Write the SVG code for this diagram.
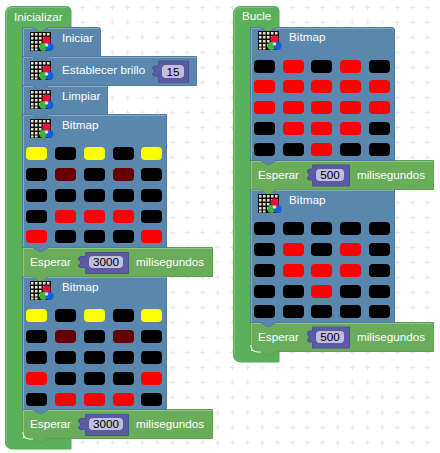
<svg xmlns="http://www.w3.org/2000/svg" width="440" height="453" viewBox="0 0 440 453">
<style>
text{font-family:"Liberation Sans",Arial,sans-serif;font-size:11.7px;fill:#fff}
.num{fill:#000;text-anchor:middle}
.hat{fill:#5bb05b;stroke:#58a858;stroke-width:1}
.blue{fill:#5a87ad;stroke:#4f7b9f;stroke-width:1}
.green{fill:#69ad5b;stroke:#5f9f52;stroke-width:1}
.hlb{fill:none;stroke:#84a8c6;stroke-width:1}
.hlg{fill:none;stroke:#8fc684;stroke-width:1}
.hlh{fill:none;stroke:#7cc47c;stroke-width:1}
.in{fill:none;stroke:#f4f8f2;stroke-width:1.2}
.val{fill:#5b5ba5;stroke:#50508f;stroke-width:1}
.fld{fill:#bfbfe0}
.k{fill:#000}.r{fill:#f00}.y{fill:#ff0}.d{fill:#600}
</style>
<defs>
<pattern id="dots" width="15" height="15" patternUnits="userSpaceOnUse">
<path d="M5,7.500H10M7.500,5V10" stroke="#e8e8e8" stroke-width="1" fill="none"/>
</pattern>
<rect id="c" width="21" height="13" rx="4"/>
<g id="icon">
<rect width="21" height="19" fill="#111"/>
<g fill="#e8e2c8"><rect x="1" y="1" width="2.500" height="2.500"/><rect x="5" y="1" width="2.500" height="2.500"/><rect x="9" y="1" width="2.500" height="2.500"/><rect x="13" y="1" width="2.500" height="2.500"/><rect x="17" y="1" width="2.500" height="2.500"/><rect x="1" y="5" width="2.500" height="2.500"/><rect x="5" y="5" width="2.500" height="2.500"/><rect x="9" y="5" width="2.500" height="2.500"/><rect x="13" y="5" width="2.500" height="2.500"/><rect x="17" y="5" width="2.500" height="2.500"/><rect x="1" y="9" width="2.500" height="2.500"/><rect x="5" y="9" width="2.500" height="2.500"/><rect x="9" y="9" width="2.500" height="2.500"/><rect x="1" y="13" width="2.500" height="2.500"/><rect x="5" y="13" width="2.500" height="2.500"/><rect x="9" y="13" width="2.500" height="2.500"/><rect x="1" y="16.500" width="2.500" height="2"/><rect x="5" y="16.500" width="2.500" height="2"/></g>
<circle cx="16.500" cy="8.500" r="4" fill="#e8103c"/>
<circle cx="13.500" cy="15" r="4" fill="#3cb43c"/>
<circle cx="19.500" cy="15" r="4" fill="#1060e0"/>
<circle cx="16.500" cy="13" r="1.800" fill="#e0e0c0"/>
</g>
<path id="v3000" class="val" d="M7.500,0.500H50.500V21.500H7.500V15.500H3Q0.500,15.500 0.500,13.500V13L2.500,11.500V9.500L0.500,8V7Q0.500,4.500 3,4.500H7.500Z"/>
<path id="v500" class="val" d="M5.500,0.500H42.500V21.500H5.500V15.500H2.500Q0.500,15.500 0.500,13.500V13L2,11.500V9.500L0.500,8V7Q0.500,4.500 2.500,4.500H5.500Z"/>
</defs>
<rect width="440" height="453" fill="#fff"/>
<rect width="440" height="453" fill="url(#dots)"/>

<g id="inicializar">
<path class="hat" d="M5.500,14Q5.500,6.500 13,6.500H66Q71,6.500 71,11.500V27.500H48L42,31.500H39L33,27.500H22.500V438.500H71V449H13Q5.500,449 5.500,441.500Z"/>
<path class="hlh" d="M6.500,441V14Q6.500,7.500 13,7.500H66"/>
<text x="14" y="21">Inicializar</text>
</g>
<g id="esperar-2">
<path class="green" d="M22.500,409.500H33L39,413.500H42L48,409.500H212.500V438.500H48L42,442.500H39L33,438.500H29Q22.500,438.500 22.500,432Z"/>
<path class="hlg" d="M23.500,432V410.500H33M48,410.500H212"/>
<path class="in" d="M22.800,432Q23,439 30,439H33"/>
<text x="30" y="428">Esperar</text>
<use href="#v3000" x="78" y="414"/>
<rect class="fld" x="89" y="418" width="34" height="12" rx="4"/>
<text class="num" x="106" y="428">3000</text>
<text x="136" y="428">milisegundos</text>
</g>
<g id="bitmap-2">
<path class="blue" d="M22.500,276.500H33L39,280.500H42L48,276.500H166.500V409.500H48L42,413.500H39L33,409.500H22.500Z"/>
<path class="hlb" d="M23.500,409V277.500H33M48,277.500H166"/>
<use href="#icon" x="30" y="281"/>
<text x="62" y="291">Bitmap</text>
<use href="#c" class="y" x="26" y="309"/><use href="#c" class="k" x="55" y="309"/><use href="#c" class="y" x="84" y="309"/><use href="#c" class="k" x="113" y="309"/><use href="#c" class="y" x="141" y="309"/>
<use href="#c" class="k" x="26" y="330"/><use href="#c" class="d" x="55" y="330"/><use href="#c" class="k" x="84" y="330"/><use href="#c" class="d" x="113" y="330"/><use href="#c" class="k" x="141" y="330"/>
<use href="#c" class="k" x="26" y="351"/><use href="#c" class="k" x="55" y="351"/><use href="#c" class="k" x="84" y="351"/><use href="#c" class="k" x="113" y="351"/><use href="#c" class="k" x="141" y="351"/>
<use href="#c" class="r" x="26" y="372"/><use href="#c" class="k" x="55" y="372"/><use href="#c" class="k" x="84" y="372"/><use href="#c" class="k" x="113" y="372"/><use href="#c" class="r" x="141" y="372"/>
<use href="#c" class="k" x="26" y="393"/><use href="#c" class="r" x="55" y="393"/><use href="#c" class="r" x="84" y="393"/><use href="#c" class="r" x="113" y="393"/><use href="#c" class="k" x="141" y="393"/>
</g>
<g id="esperar-1">
<path class="green" d="M22.500,247.500H33L39,251.500H42L48,247.500H212.500V276.500H48L42,280.500H39L33,276.500H22.500Z"/>
<path class="hlg" d="M23.500,276V248.500H33M48,248.500H212"/>
<text x="30" y="266">Esperar</text>
<use href="#v3000" x="78" y="252"/>
<rect class="fld" x="89" y="256" width="34" height="12" rx="4"/>
<text class="num" x="106" y="266">3000</text>
<text x="136" y="266">milisegundos</text>
</g>
<g id="bitmap-1">
<path class="blue" d="M22.500,114.500H33L39,118.500H42L48,114.500H166.500V247.500H48L42,251.500H39L33,247.500H22.500Z"/>
<path class="hlb" d="M23.500,247V115.500H33M48,115.500H166"/>
<use href="#icon" x="30" y="119"/>
<text x="62" y="129">Bitmap</text>
<use href="#c" class="y" x="26" y="147"/><use href="#c" class="k" x="55" y="147"/><use href="#c" class="y" x="84" y="147"/><use href="#c" class="k" x="113" y="147"/><use href="#c" class="y" x="141" y="147"/>
<use href="#c" class="k" x="26" y="168"/><use href="#c" class="d" x="55" y="168"/><use href="#c" class="k" x="84" y="168"/><use href="#c" class="d" x="113" y="168"/><use href="#c" class="k" x="141" y="168"/>
<use href="#c" class="k" x="26" y="189"/><use href="#c" class="k" x="55" y="189"/><use href="#c" class="k" x="84" y="189"/><use href="#c" class="k" x="113" y="189"/><use href="#c" class="k" x="141" y="189"/>
<use href="#c" class="k" x="26" y="210"/><use href="#c" class="r" x="55" y="210"/><use href="#c" class="r" x="84" y="210"/><use href="#c" class="r" x="113" y="210"/><use href="#c" class="k" x="141" y="210"/>
<use href="#c" class="r" x="26" y="230"/><use href="#c" class="k" x="55" y="230"/><use href="#c" class="k" x="84" y="230"/><use href="#c" class="k" x="113" y="230"/><use href="#c" class="r" x="141" y="230"/>
</g>
<g id="limpiar">
<path class="blue" d="M22.500,85.500H33L39,89.500H42L48,85.500H107.500V114.500H48L42,118.500H39L33,114.500H22.500Z"/>
<path class="hlb" d="M23.500,114V86.500H33M48,86.500H107"/>
<use href="#icon" x="30" y="90"/>
<text x="62" y="100">Limpiar</text>
</g>
<g id="brillo">
<path class="blue" d="M22.500,56.500H33L39,60.500H42L48,56.500H196.500V85.500H48L42,89.500H39L33,85.500H22.500Z"/>
<path class="hlb" d="M23.500,85V57.500H33M48,57.500H196"/>
<use href="#icon" x="30" y="61"/>
<text x="62" y="74">Establecer brillo</text>
<path class="val" d="M158.500,61H188.500V82.500H158.500V76H155Q152.500,76 152.500,74V73.500L154.500,72V70L152.500,68.500V68Q152.500,66 155,66H158.500Z"/>
<rect class="fld" x="162" y="65" width="22" height="13" rx="4"/>
<text class="num" x="173" y="75.500">15</text>
</g>
<g id="iniciar">
<path class="blue" d="M22.500,27.500H33L39,31.500H42L48,27.500H98.500Q100.500,27.500 100.500,30V56.500H48L42,60.500H39L33,56.500H22.500Z"/>
<path class="hlb" d="M23.500,56V28.500H33M48,28.500H99"/>
<use href="#icon" x="30" y="32"/>
<text x="62" y="42">Iniciar</text>
</g>

<g id="bucle">
<path class="hat" d="M233.500,14Q233.500,6.500 241,6.500H274Q279,6.500 279,11.500V27.500H276L270,31.500H267L261,27.500H250.500V351.500H279V362H241Q233.500,362 233.500,354.500Z"/>
<path class="hlh" d="M234.500,354V14Q234.500,7.500 241,7.500H274"/>
<text x="242" y="20">Bucle</text>
</g>
<g id="esperar-4">
<path class="green" d="M250.500,322.500H261L267,326.500H270L276,322.500H433.500V351.500H276L270,355.500H267L261,351.500H257Q250.500,351.500 250.500,345Z"/>
<path class="hlg" d="M251.500,345V323.500H261M276,323.500H433"/>
<path class="in" d="M250.800,345Q251,352 258,352H261"/>
<text x="258" y="341">Esperar</text>
<use href="#v500" x="307" y="326.500"/>
<rect class="fld" x="316" y="331" width="28" height="12" rx="4"/>
<text class="num" x="330" y="341">500</text>
<text x="357" y="341">milisegundos</text>
</g>
<g id="bitmap-4">
<path class="blue" d="M250.500,189.500H261L267,193.500H270L276,189.500H394.500V322.500H276L270,326.500H267L261,322.500H250.500Z"/>
<path class="hlb" d="M251.500,322V190.500H261M276,190.500H394"/>
<use href="#icon" x="258" y="194"/>
<text x="289" y="204">Bitmap</text>
<use href="#c" class="k" x="254" y="222"/><use href="#c" class="k" x="283" y="222"/><use href="#c" class="k" x="311" y="222"/><use href="#c" class="k" x="340" y="222"/><use href="#c" class="k" x="369" y="222"/>
<use href="#c" class="k" x="254" y="243"/><use href="#c" class="r" x="283" y="243"/><use href="#c" class="k" x="311" y="243"/><use href="#c" class="r" x="340" y="243"/><use href="#c" class="k" x="369" y="243"/>
<use href="#c" class="k" x="254" y="264"/><use href="#c" class="r" x="283" y="264"/><use href="#c" class="r" x="311" y="264"/><use href="#c" class="r" x="340" y="264"/><use href="#c" class="k" x="369" y="264"/>
<use href="#c" class="k" x="254" y="285"/><use href="#c" class="k" x="283" y="285"/><use href="#c" class="r" x="311" y="285"/><use href="#c" class="k" x="340" y="285"/><use href="#c" class="k" x="369" y="285"/>
<use href="#c" class="k" x="254" y="305"/><use href="#c" class="k" x="283" y="305"/><use href="#c" class="k" x="311" y="305"/><use href="#c" class="k" x="340" y="305"/><use href="#c" class="k" x="369" y="305"/>
</g>
<g id="esperar-3">
<path class="green" d="M250.500,160.500H261L267,164.500H270L276,160.500H433.500V189.500H276L270,193.500H267L261,189.500H250.500Z"/>
<path class="hlg" d="M251.500,189V161.500H261M276,161.500H433"/>
<text x="258" y="179">Esperar</text>
<use href="#v500" x="307" y="164.500"/>
<rect class="fld" x="316" y="169" width="28" height="12" rx="4"/>
<text class="num" x="330" y="179">500</text>
<text x="357" y="179">milisegundos</text>
</g>
<g id="bitmap-3">
<path class="blue" d="M250.500,27.500H261L267,31.500H270L276,27.500H392Q394.500,27.500 394.500,30V160.500H276L270,164.500H267L261,160.500H250.500Z"/>
<path class="hlb" d="M251.500,160V28.500H261M276,28.500H393"/>
<use href="#icon" x="258" y="31"/>
<text x="289" y="41">Bitmap</text>
<use href="#c" class="k" x="254" y="60"/><use href="#c" class="r" x="283" y="60"/><use href="#c" class="k" x="311" y="60"/><use href="#c" class="r" x="340" y="60"/><use href="#c" class="k" x="369" y="60"/>
<use href="#c" class="r" x="254" y="80"/><use href="#c" class="r" x="283" y="80"/><use href="#c" class="r" x="311" y="80"/><use href="#c" class="r" x="340" y="80"/><use href="#c" class="r" x="369" y="80"/>
<use href="#c" class="r" x="254" y="101"/><use href="#c" class="r" x="283" y="101"/><use href="#c" class="r" x="311" y="101"/><use href="#c" class="r" x="340" y="101"/><use href="#c" class="r" x="369" y="101"/>
<use href="#c" class="k" x="254" y="122"/><use href="#c" class="r" x="283" y="122"/><use href="#c" class="r" x="311" y="122"/><use href="#c" class="r" x="340" y="122"/><use href="#c" class="k" x="369" y="122"/>
<use href="#c" class="k" x="254" y="143"/><use href="#c" class="k" x="283" y="143"/><use href="#c" class="r" x="311" y="143"/><use href="#c" class="k" x="340" y="143"/><use href="#c" class="k" x="369" y="143"/>
</g>
</svg>
